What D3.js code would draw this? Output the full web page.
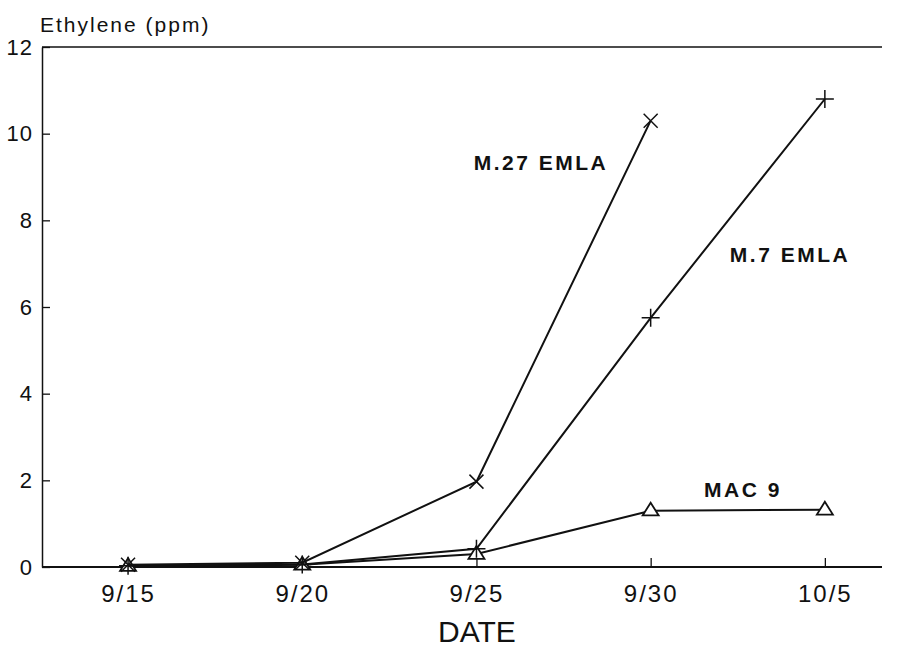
<!DOCTYPE html>
<html>
<head>
<meta charset="utf-8">
<script src="https://cdn.jsdelivr.net/npm/d3@7"></script>
<style>
  html, body { margin: 0; padding: 0; background: #fff; }
  svg text { font-family: "Liberation Sans", Arial, sans-serif; fill: #111; }
</style>
</head>
<body>
<svg id="chart" width="900" height="650"></svg>
<script>
// Sampling dates (days after 9/15) and their labels
const dayOffsets = [0, 5, 10, 15, 20];
const dateLabels = ["9/15", "9/20", "9/25", "9/30", "10/5"];
const yTicks = [0, 2, 4, 6, 8, 10, 12];

// Ethylene concentration (ppm) per rootstock
const m27Days = [0, 5, 10, 15];
const m27Values = [0.05, 0.1, 1.97, 10.3];
const m7Days = [0, 5, 10, 15, 20];
const m7Values = [0.03, 0.06, 0.42, 5.75, 10.8];
const mac9Days = [0, 5, 10, 15, 20];
const mac9Values = [0.02, 0.05, 0.3, 1.3, 1.32];

const seriesNames = ["M.27 EMLA", "M.7 EMLA", "MAC 9"];

const svg = d3.select("#chart");
const plotLeft = 42, plotRight = 882, plotTop = 47, plotBottom = 567;

const x = d3.scaleLinear().domain([-2.47, 21.64]).range([plotLeft, plotRight]);
const y = d3.scaleLinear().domain([0, 12]).range([plotBottom, plotTop]);

const ink = "#111";

// Frame: left axis, bottom axis, top border
svg.append("line").attr("x1", plotLeft).attr("x2", plotRight).attr("y1", plotTop).attr("y2", plotTop)
  .attr("stroke", ink).attr("stroke-width", 1.5);

const xAxis = d3.axisBottom(x).tickValues(dayOffsets)
  .tickFormat((d, i) => dateLabels[i]).tickSizeInner(-9).tickSizeOuter(0).tickPadding(18);
const gx = svg.append("g").attr("transform", `translate(0,${plotBottom})`).call(xAxis);
gx.select(".domain").attr("stroke", ink).attr("stroke-width", 1.8)
  .attr("d", `M${plotLeft},0H${plotRight}`);
gx.selectAll(".tick line").attr("stroke", ink).attr("stroke-width", 1.3);
gx.selectAll(".tick text").attr("font-size", 24).attr("letter-spacing", 2).attr("dy", "0.71em");

const yAxis = d3.axisLeft(y).tickValues(yTicks).tickSizeInner(-8).tickSizeOuter(0).tickPadding(9);
const gy = svg.append("g").attr("transform", `translate(${plotLeft},0)`).call(yAxis);
gy.select(".domain").attr("stroke", ink).attr("stroke-width", 1.5);
gy.selectAll(".tick line").attr("stroke", ink).attr("stroke-width", 1.3);
gy.selectAll(".tick text").attr("font-size", 22).attr("letter-spacing", 1);

svg.append("text").attr("x", 40).attr("y", 32).attr("font-size", 21)
  .attr("letter-spacing", 2).text("Ethylene (ppm)");
svg.append("text").attr("x", 477).attr("y", 642).attr("text-anchor", "middle")
  .attr("font-size", 30).text("DATE");

const line = d3.line().x(d => x(d[0])).y(d => y(d[1]));

function drawSeries(days, values, marker) {
  const pts = days.map((d, i) => [d, values[i]]);
  svg.append("path").datum(pts).attr("d", line)
    .attr("fill", "none").attr("stroke", ink).attr("stroke-width", 2);
  const g = svg.append("g");
  pts.forEach(p => {
    const cx = x(p[0]), cy = y(p[1]);
    if (marker === "x") {
      const s = 7;
      g.append("path").attr("d", `M${cx - s},${cy - s}L${cx + s},${cy + s}M${cx - s},${cy + s}L${cx + s},${cy - s}`)
        .attr("stroke", ink).attr("stroke-width", 1.5).attr("fill", "none");
    } else if (marker === "plus") {
      const s = 9;
      g.append("path").attr("d", `M${cx - s},${cy}L${cx + s},${cy}M${cx},${cy - s}L${cx},${cy + s}`)
        .attr("stroke", ink).attr("stroke-width", 1.5).attr("fill", "none");
    } else {
      const s = 8;
      g.append("path").attr("d", `M${cx},${cy - s}L${cx + s},${cy + s * 0.6}L${cx - s},${cy + s * 0.6}Z`)
        .attr("stroke", ink).attr("stroke-width", 1.8).attr("fill", "#fff");
    }
  });
}

drawSeries(mac9Days, mac9Values, "tri");
drawSeries(m7Days, m7Values, "plus");
drawSeries(m27Days, m27Values, "x");

// Series labels
const labelPos = [[541, 170], [790, 262], [743, 497]];
seriesNames.forEach((n, i) => {
  svg.append("text").attr("x", labelPos[i][0]).attr("y", labelPos[i][1])
    .attr("text-anchor", "middle").attr("font-size", 21).attr("font-weight", "bold")
    .attr("letter-spacing", 2.5).text(n);
});
</script>
</body>
</html>
